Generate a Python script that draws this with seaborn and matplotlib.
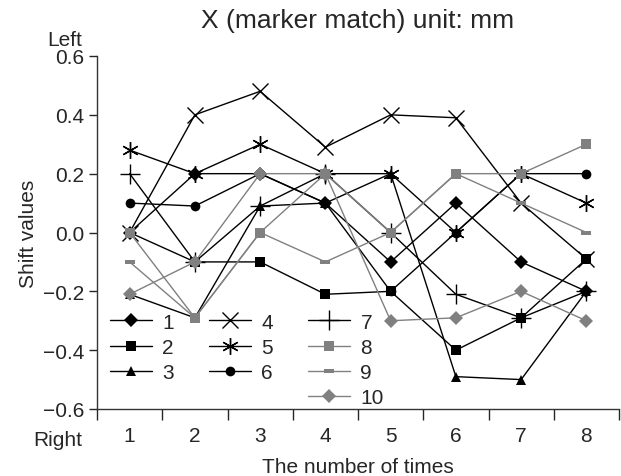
import numpy as np
import pandas as pd
import matplotlib
matplotlib.use("Agg")
import matplotlib.pyplot as plt
import seaborn as sns

# ---------------------------
# Data
# ---------------------------

times = [1, 2, 3, 4, 5, 6, 7, 8]

s1 = [0.0, 0.2, 0.2, 0.1, -0.1, 0.1, -0.1, -0.2]
s2 = [0.0, -0.1, -0.1, -0.21, -0.2, -0.4, -0.29, -0.09]
s3 = [-0.21, -0.29, 0.09, 0.1, 0.2, -0.49, -0.5, -0.2]
s4 = [0.0, 0.4, 0.48, 0.29, 0.4, 0.39, 0.1, -0.09]
s5 = [0.28, 0.2, 0.3, 0.2, 0.2, 0.0, 0.2, 0.1]
s6 = [0.1, 0.09, 0.2, 0.1, -0.2, 0.0, 0.2, 0.2]
s7 = [0.2, -0.1, 0.09, 0.2, 0.0, -0.21, -0.29, -0.2]
s8 = [0.0, -0.29, 0.0, 0.2, 0.0, 0.2, 0.2, 0.3]
s9 = [-0.1, -0.29, 0.0, -0.1, 0.0, 0.2, 0.1, 0.0]
s10 = [-0.21, -0.1, 0.2, 0.2, -0.3, -0.29, -0.2, -0.3]

series_labels = ["1", "2", "3", "4", "5", "6", "7", "8", "9", "10"]
y_ticks = [-0.6, -0.4, -0.2, 0.0, 0.2, 0.4, 0.6]
y_ticklabels = ["\u22120.6", "\u22120.4", "\u22120.2", "0.0", "0.2", "0.4", "0.6"]

# ---------------------------
# Styles
# ---------------------------

BLACK = "black"
GRAY = "#808080"
small_rect = [(-1, -0.5), (1, -0.5), (1, 0.5), (-1, 0.5), (-1, -0.5)]

styles = [
    dict(color=BLACK, marker="D", ms=7, mew=0),
    dict(color=BLACK, marker="s", ms=6.5, mew=0),
    dict(color=BLACK, marker="^", ms=7.5, mew=0),
    dict(color=BLACK, marker="x", ms=11, mew=1.0),
    dict(color=BLACK, marker=(6, 2, 0), ms=12, mew=1.0),
    dict(color=BLACK, marker="o", ms=7, mew=0),
    dict(color=BLACK, marker="+", ms=14, mew=1.0),
    dict(color=GRAY, marker="s", ms=6.5, mew=0),
    dict(color=GRAY, marker=small_rect, ms=7, mew=0),
    dict(color=GRAY, marker="D", ms=7, mew=0),
]

sns.set_style("ticks")
plt.rcParams["font.family"] = ["Liberation Sans", "DejaVu Sans"]

fig = plt.figure(figsize=(6.21, 4.77), dpi=100)
ax = fig.add_axes([97 / 621, 1 - 410 / 477, 522 / 621, 353 / 477])

all_series = [s1, s2, s3, s4, s5, s6, s7, s8, s9, s10]
handles = {}
for lab, vals, st in zip(series_labels, all_series, styles):
    df = pd.DataFrame({"time": times, "shift": vals})
    sns.lineplot(data=df, x="time", y="shift", ax=ax, color=st["color"],
                 marker=st["marker"], markersize=st["ms"], markeredgewidth=st["mew"],
                 markeredgecolor=st["color"], markerfacecolor=st["color"],
                 linewidth=1.0, label=lab, legend=False, clip_on=False)
    handles[lab] = ax.lines[-1]

# ---------------------------
# Axes
# ---------------------------

ax.set_xlim(0.5, 8.5)
ax.set_ylim(-0.6, 0.6)
sns.despine(ax=ax)
for sp in ["left", "bottom"]:
    ax.spines[sp].set_linewidth(1.0)
    ax.spines[sp].set_color("#333333")

ax.set_yticks(y_ticks)
ax.set_yticklabels(y_ticklabels)
ax.set_xticks(np.arange(0.5, 9, 1))
ax.set_xticklabels([])
ax.set_xticks(times, minor=True)
ax.set_xticklabels([str(t) for t in times], minor=True)
ax.tick_params(axis="x", which="major", length=8, width=1.0, direction="out")
ax.tick_params(axis="x", which="minor", length=0, pad=12, labelsize=15)
ax.tick_params(axis="y", length=6, width=1.0, labelsize=15, pad=3)

ax.set_xlabel("The number of times", fontsize=15, labelpad=9)
ax.set_ylabel("Shift values", fontsize=15, labelpad=4)
fig.text(358 / 621, 1 - 21 / 477, "X (marker match) unit: mm", fontsize=19,
         ha="center", va="center")
fig.text(65 / 621, 1 - 40 / 477, "Left", fontsize=15, ha="center", va="center")
fig.text(58 / 621, 1 - 441 / 477, "Right", fontsize=15, ha="center", va="center")

# legend: 3 columns (1-3, 4-6, 7-10), blanks to fill the grid
blank = plt.Line2D([], [], linestyle="none")
order = ["1", "2", "3", None, "4", "5", "6", None, "7", "8", "9", "10"]
leg_h = [handles[k] if k else blank for k in order]
leg_l = [k if k else "" for k in order]
ax.legend(leg_h, leg_l, ncol=3, loc="upper left", bbox_to_anchor=(0.025, 0.273),
          frameon=False, fontsize=15, handlelength=2.0, handletextpad=0.5,
          columnspacing=1.7, labelspacing=0.3, borderpad=0, borderaxespad=0)

fig.savefig("out.png", dpi=100)
